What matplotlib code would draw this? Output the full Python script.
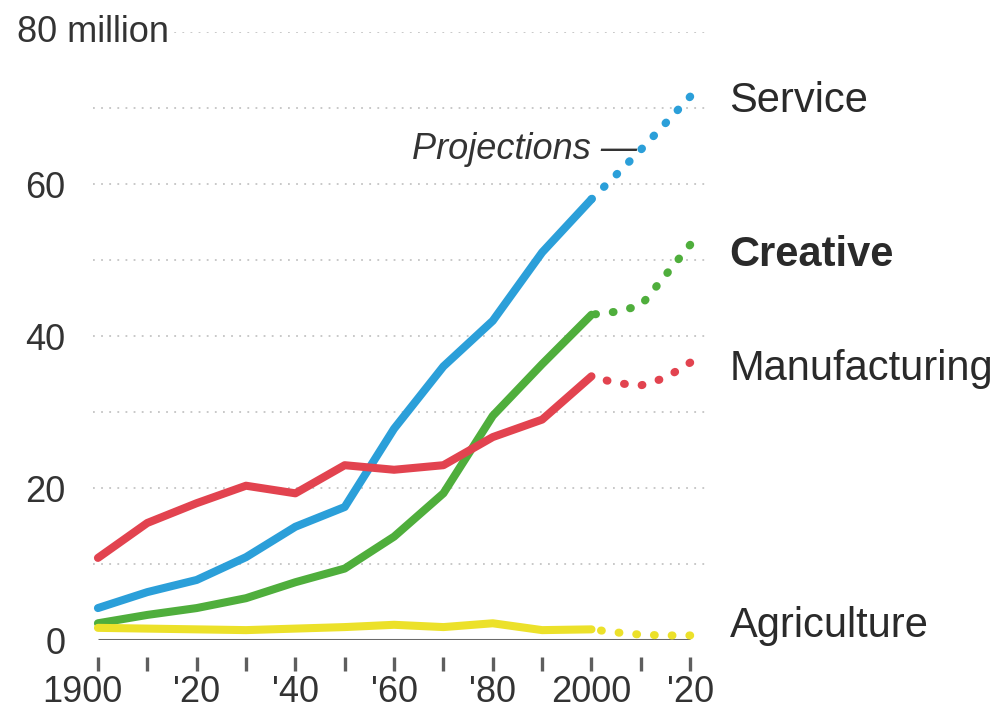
import matplotlib
matplotlib.use('Agg')
import matplotlib.pyplot as plt
import matplotlib.transforms as mtransforms

plt.rcParams['font.family'] = ['Liberation Sans', 'DejaVu Sans']

# historical series (millions of workers)
years = [1900, 1910, 1920, 1930, 1940, 1950, 1960, 1970, 1980, 1990, 2000]
service = [4.2, 6.3, 7.9, 10.9, 14.9, 17.5, 27.8, 36.0, 42.0, 51.0, 58.0]
manufacturing = [10.8, 15.4, 18.0, 20.3, 19.3, 23.0, 22.4, 23.0, 26.7, 29.0, 34.7]
creative = [2.2, 3.3, 4.2, 5.5, 7.6, 9.4, 13.6, 19.3, 29.5, 36.3, 42.8]
agriculture = [1.6, 1.5, 1.4, 1.3, 1.5, 1.7, 2.0, 1.7, 2.2, 1.3, 1.4]

# projections
proj_years = [2000, 2005, 2010, 2015, 2020]
service_proj = [58.0, 61.2, 64.5, 68.0, 71.5]
manufacturing_proj = [34.7, 33.8, 33.5, 34.5, 36.5]
creative_proj = [42.8, 43.2, 44.0, 48.0, 52.0]
agriculture_proj = [1.4, 1.0, 0.7, 0.6, 0.6]

xticks = [1900, 1910, 1920, 1930, 1940, 1950, 1960, 1970, 1980, 1990, 2000, 2010, 2020]
xticklabels = ['1900', '', "'20", '', "'40", '', "'60", '', "'80", '', '2000', '', "'20"]
yticks = [0, 20, 40, 60]
grid_levels = [10, 20, 30, 40, 50, 60, 70, 80]

series = [
    ('Service', service, service_proj, '#2b9fd9', 'normal', 70.9),
    ('Creative', creative, creative_proj, '#4fae3c', 'bold', 50.6),
    ('Manufacturing', manufacturing, manufacturing_proj, '#e2434f', 'normal', 35.6),
    ('Agriculture', agriculture, agriculture_proj, '#ece12a', 'normal', 1.9),
]

fig = plt.figure(figsize=(9.99, 7.15), dpi=100)
ax = fig.add_axes([93 / 999, 75 / 715, 612 / 999, 608 / 715])
ax.set_xlim(1899, 2023)
ax.set_ylim(0, 80)

for lvl in grid_levels:
    ax.axhline(lvl, color='#c4c4c4', lw=1.3, ls=(0, (1, 3.5)), zorder=0)

ax.hlines(0, years[0], proj_years[-1], color='#6a6a6a', lw=2.2, zorder=1)

for name, hist, proj, color, weight, label_y in series:
    ax.plot(years, hist, color=color, lw=5.8, solid_capstyle='round',
            solid_joinstyle='round', zorder=3, clip_on=False)
    # drawn end-to-start so a dot always lands on the 2020 value
    ax.plot(proj_years[::-1], proj[::-1], color=color, lw=5.8, ls=(0, (0.1, 2.1)),
            dash_capstyle='round', zorder=3, clip_on=False)
    ax.text(1.04, label_y, name, transform=ax.get_yaxis_transform(),
            fontsize=30, fontweight=weight, color='#2a2a2a', va='center', ha='left')

ax.text(2009.3, 64.6, 'Projections \u2014', fontsize=26, style='italic',
        color='#333333', ha='right', va='center')

ax.text(-0.124, 80, '80 million', transform=ax.get_yaxis_transform(),
        fontsize=26, color='#333333', ha='left', va='center',
        bbox=dict(facecolor='white', edgecolor='none', pad=1.5))

for sp in ax.spines.values():
    sp.set_visible(False)
ax.spines['bottom'].set_position(('outward', 12))

ax.set_xticks(xticks)
ax.set_xticklabels(xticklabels, fontsize=26, color='#333333')
ax.tick_params(axis='x', length=10, width=2.4, color='#5e5e5e', pad=3)
ax.set_yticks(yticks)
ax.set_yticklabels([str(v) for v in yticks], fontsize=26, color='#333333')
ax.tick_params(axis='y', length=0, pad=20)

# the "1900" label sits a little left of its tick in the original
first = ax.get_xticklabels()[0]
first.set_transform(first.get_transform()
                    + mtransforms.ScaledTranslation(-0.16, 0, fig.dpi_scale_trans))

fig.savefig('out.png', dpi=100)
